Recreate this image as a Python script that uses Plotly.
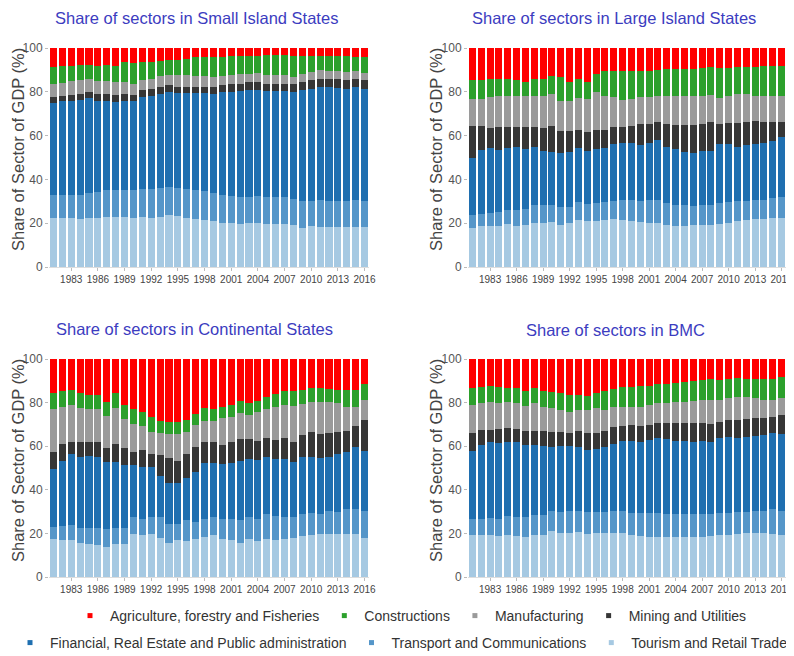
import plotly.graph_objects as go

years = list(range(1981, 2017))
tick_years = list(range(1983, 2017, 3))
y_ticks = [0, 20, 40, 60, 80, 100]

sectors = [
    "Tourism and Retail Trade",
    "Transport and Communications",
    "Financial, Real Estate and Public administration",
    "Mining and Utilities",
    "Manufacturing",
    "Constructions",
    "Agriculture, forestry and Fisheries",
]
colors = ["#a6c9e2", "#5596c9", "#1f6fb0", "#363636", "#9a9a9a", "#2ca02c", "#ff0000"]

panel_titles = [
    "Share of sectors in Small Island States",
    "Share of sectors in Large Island States",
    "Share of sectors in Continental States",
    "Share of sectors in BMC",
]
y_title = "Share of Sector of GDP (%)"

# ---- Small Island States ----
sis_tourism = [22.6, 22.6, 22.4, 21.7, 22.6, 22.6, 23.0, 23.0, 23.0, 22.6, 23.0, 22.6, 23.0, 23.7, 23.3, 22.6, 21.7, 21.4,
               21.0, 20.3, 20.2, 19.8, 20.0, 20.2, 19.8, 19.8, 19.8, 19.0, 17.9, 18.6, 18.4, 18.3, 18.3, 18.3, 18.3, 18.3]
sis_transport = [10.5, 10.5, 10.7, 11.4, 11.4, 11.7, 12.0, 12.0, 12.0, 12.4, 12.4, 13.0, 12.9, 12.9, 13.0, 13.0, 13.4, 13.3,
                 13.0, 12.5, 12.2, 12.0, 12.1, 12.2, 12.3, 12.0, 12.3, 12.0, 12.2, 11.5, 12.0, 11.8, 11.8, 11.8, 12.1, 11.8]
sis_financial = [42.0, 42.5, 42.9, 43.2, 43.1, 41.7, 41.0, 40.4, 41.0, 40.6, 42.2, 42.3, 43.2, 43.2, 43.2, 43.9, 44.4, 44.7,
                 45.2, 46.9, 47.6, 48.5, 48.5, 48.5, 48.1, 48.4, 48.1, 48.7, 50.8, 51.4, 51.7, 52.0, 51.7, 51.4, 51.6, 51.1]
sis_mining = [2.5, 2.3, 2.6, 2.6, 2.7, 2.9, 2.9, 3.1, 2.8, 3.0, 3.3, 3.3, 3.0, 3.4, 2.9, 2.9, 2.9, 3.0,
              3.2, 3.5, 3.7, 3.4, 3.7, 3.7, 3.5, 3.5, 3.5, 4.0, 3.4, 4.0, 3.7, 3.7, 4.0, 3.7, 3.8, 4.0]
sis_manufacturing = [5.8, 6.2, 6.3, 6.6, 6.0, 6.0, 6.0, 5.8, 5.5, 4.8, 4.6, 4.6, 4.9, 4.6, 5.5, 5.5, 4.9, 4.6,
                     4.3, 3.8, 4.2, 4.4, 3.9, 3.9, 4.2, 3.9, 3.9, 2.9, 3.7, 3.7, 4.0, 3.7, 3.7, 3.7, 3.5, 3.4]
sis_constructions = [7.7, 7.5, 7.0, 6.6, 6.4, 6.7, 7.5, 7.6, 9.1, 9.7, 7.9, 7.9, 7.2, 6.9, 6.8, 7.1, 8.4, 8.9,
                     9.2, 8.9, 8.3, 8.1, 8.0, 8.0, 8.9, 9.2, 9.3, 9.9, 8.5, 7.3, 6.7, 6.7, 6.7, 7.3, 6.6, 7.3]
sis_agriculture = [8.9, 8.4, 8.1, 7.9, 7.8, 8.4, 7.6, 8.1, 6.6, 6.9, 6.6, 6.3, 5.8, 5.3, 5.3, 5.0, 4.3, 4.1,
                   4.1, 4.1, 3.8, 3.8, 3.8, 3.5, 3.2, 3.2, 3.1, 3.5, 3.5, 3.5, 3.5, 3.8, 3.8, 3.8, 4.1, 4.1]

# ---- Large Island States ----
lis_tourism = [18.0, 18.6, 18.6, 18.6, 19.8, 18.6, 19.1, 20.2, 20.2, 20.6, 19.4, 20.2, 21.4, 20.8, 20.8, 21.4, 22.1, 21.4,
               20.9, 20.6, 20.2, 20.2, 19.1, 18.6, 18.9, 19.1, 19.1, 19.4, 19.8, 20.3, 20.8, 21.4, 21.8, 22.1, 22.4, 22.6]
lis_transport = [5.7, 5.8, 6.1, 6.6, 6.2, 7.4, 7.3, 8.0, 8.0, 7.6, 8.1, 7.3, 8.1, 7.9, 8.2, 8.2, 8.1, 9.1,
                 9.6, 9.5, 10.3, 10.6, 9.9, 9.6, 9.3, 8.7, 9.1, 8.8, 9.2, 9.5, 9.3, 8.7, 8.7, 8.7, 8.9, 9.2]
lis_financial = [25.9, 29.0, 29.8, 28.2, 28.2, 28.7, 27.3, 26.5, 24.9, 24.5, 24.7, 25.2, 24.7, 24.4, 24.7, 24.9, 26.0, 26.3,
                 26.0, 25.6, 26.0, 27.2, 26.0, 25.5, 24.5, 24.1, 24.9, 24.9, 27.2, 26.2, 24.9, 25.6, 25.7, 25.7, 26.3, 27.4]
lis_mining = [14.8, 11.0, 8.9, 10.7, 9.9, 9.4, 10.1, 9.4, 10.6, 11.7, 9.9, 9.4, 8.5, 8.7, 9.0, 8.2, 7.9, 7.0,
              8.1, 9.5, 8.8, 8.1, 10.5, 11.2, 12.0, 13.0, 12.1, 13.0, 9.0, 9.6, 10.6, 10.4, 10.5, 9.9, 8.8, 7.2]
lis_manufacturing = [12.4, 12.4, 14.0, 13.8, 13.8, 14.2, 14.5, 14.2, 14.6, 14.5, 13.9, 13.5, 14.4, 15.0, 17.0, 15.2, 13.3, 12.5,
                     12.2, 12.4, 12.1, 11.8, 12.4, 13.4, 13.2, 13.0, 13.1, 12.5, 11.9, 12.6, 13.2, 12.8, 11.5, 11.9, 11.5, 11.5]
lis_constructions = [8.4, 8.7, 8.6, 8.1, 8.1, 6.9, 6.4, 7.7, 7.7, 8.1, 10.6, 9.1, 8.7, 7.9, 8.4, 11.7, 11.9, 13.3,
                     12.5, 12.0, 12.2, 12.2, 12.5, 12.1, 12.5, 12.6, 12.5, 12.7, 13.7, 12.6, 12.5, 12.4, 12.9, 13.3, 14.0, 13.7]
lis_agriculture = [14.8, 14.5, 14.0, 14.0, 14.0, 14.8, 15.3, 14.0, 14.0, 13.0, 13.4, 15.3, 14.2, 15.3, 11.9, 10.4, 10.7, 10.4,
                   10.7, 10.4, 10.4, 9.9, 9.6, 9.6, 9.6, 9.5, 9.2, 8.7, 9.2, 9.2, 8.7, 8.7, 8.9, 8.4, 8.1, 8.4]

# ---- Continental States ----
cs_tourism = [17.6, 17.2, 16.9, 15.6, 15.0, 14.6, 13.8, 15.0, 15.3, 19.5, 19.2, 19.6, 17.9, 15.8, 16.9, 16.4, 17.6, 18.4,
              19.2, 17.6, 16.9, 15.8, 17.3, 16.6, 17.6, 17.2, 17.6, 17.9, 18.7, 19.2, 19.5, 19.9, 19.6, 19.9, 19.9, 17.9]
cs_transport = [5.4, 6.1, 6.9, 7.1, 7.7, 8.1, 8.0, 7.7, 7.4, 7.8, 7.6, 8.0, 9.7, 8.7, 7.6, 9.7, 7.7, 8.0,
                8.1, 8.8, 9.5, 10.3, 10.3, 10.2, 11.1, 10.9, 10.0, 9.4, 10.1, 10.2, 9.3, 10.3, 10.3, 11.2, 11.5, 12.5]
cs_financial = [26.4, 30.1, 32.5, 32.5, 33.0, 32.2, 31.1, 30.2, 28.7, 24.1, 23.5, 22.7, 18.9, 18.4, 18.4, 19.1, 23.0, 26.1,
                25.2, 25.3, 26.1, 27.3, 26.4, 26.9, 26.2, 26.0, 26.5, 25.3, 26.4, 25.8, 25.6, 25.0, 26.4, 26.3, 28.1, 27.6]
cs_mining = [7.8, 7.5, 5.7, 6.5, 6.0, 6.8, 6.5, 8.0, 7.6, 6.1, 8.0, 6.0, 9.5, 11.9, 10.3, 11.1, 11.2, 9.3,
             9.3, 8.9, 9.2, 9.8, 9.2, 8.7, 8.8, 8.8, 9.6, 9.5, 10.0, 11.1, 11.1, 10.8, 10.4, 9.6, 9.8, 14.1]
cs_manufacturing = [19.8, 17.3, 16.7, 15.6, 15.3, 15.3, 14.5, 16.6, 13.4, 12.6, 11.0, 10.0, 10.0, 10.8, 12.3, 10.1, 10.3, 9.8,
                    9.8, 12.3, 11.9, 12.0, 11.2, 13.1, 13.4, 15.0, 15.0, 16.4, 14.1, 13.9, 15.0, 14.2, 13.1, 11.2, 8.9, 9.2]
cs_constructions = [7.4, 7.2, 6.9, 7.1, 6.6, 6.3, 6.2, 6.9, 6.7, 6.9, 6.6, 7.0, 5.6, 5.7, 5.4, 5.7, 4.9, 5.9,
                    5.5, 5.3, 5.4, 5.6, 5.4, 5.3, 5.4, 6.0, 6.4, 6.6, 6.3, 6.5, 6.2, 6.1, 6.1, 7.4, 7.4, 7.2]
cs_agriculture = [15.6, 14.6, 14.4, 15.6, 16.4, 16.7, 19.9, 15.6, 20.9, 23.0, 24.1, 26.7, 28.4, 28.7, 29.1, 27.9, 25.3, 22.5,
                  22.9, 21.8, 21.0, 19.2, 20.2, 19.2, 17.5, 16.1, 14.9, 14.9, 14.4, 13.3, 13.3, 13.7, 14.1, 14.4, 14.4, 11.5]

# ---- BMC ----
bmc_tourism = [19.1, 19.1, 19.1, 18.6, 19.1, 18.6, 18.3, 19.4, 19.4, 20.9, 20.3, 20.3, 20.6, 19.8, 20.2, 20.2, 20.2, 20.2,
               19.1, 18.8, 18.3, 18.3, 18.3, 18.3, 18.3, 18.3, 18.3, 18.6, 19.4, 19.4, 19.8, 20.2, 20.2, 20.2, 19.8, 19.4]
bmc_transport = [7.3, 7.3, 7.9, 7.8, 8.7, 8.9, 9.2, 9.1, 9.1, 9.2, 9.5, 9.8, 9.9, 9.9, 9.6, 9.6, 9.9, 10.3,
                 10.4, 10.7, 11.2, 11.2, 10.7, 10.7, 10.4, 10.4, 10.7, 10.4, 10.1, 10.1, 10.0, 9.6, 10.0, 10.3, 11.2, 10.8]
bmc_financial = [31.3, 34.2, 35.1, 35.0, 34.3, 34.3, 33.1, 32.1, 31.5, 29.7, 30.2, 29.9, 29.0, 28.7, 28.7, 29.7, 31.0, 31.8,
                 32.8, 32.6, 33.4, 34.2, 34.1, 33.6, 33.6, 33.1, 33.3, 32.8, 34.3, 34.6, 34.0, 34.3, 34.7, 34.7, 35.0, 35.4]
bmc_mining = [8.4, 7.0, 5.5, 6.5, 6.3, 6.1, 6.3, 6.6, 6.9, 6.6, 6.4, 6.1, 7.4, 7.6, 7.6, 7.4, 7.6, 6.9,
              7.2, 7.1, 6.9, 6.8, 7.4, 7.9, 8.2, 8.7, 8.5, 8.4, 7.5, 8.0, 8.3, 8.2, 8.1, 7.6, 7.6, 8.8]
bmc_manufacturing = [12.8, 12.2, 12.6, 11.9, 11.8, 11.7, 11.7, 12.4, 11.0, 11.0, 10.4, 9.8, 9.7, 10.7, 11.5, 9.9, 9.2, 8.7,
                     8.7, 9.0, 9.3, 9.3, 9.3, 10.0, 10.0, 10.1, 10.4, 11.0, 9.9, 10.0, 10.6, 10.4, 9.0, 8.6, 7.8, 7.6]
bmc_constructions = [7.7, 7.5, 7.3, 7.2, 6.5, 7.0, 6.9, 7.1, 7.6, 7.3, 7.6, 7.6, 6.9, 6.4, 6.7, 8.4, 8.4, 9.1,
                     8.8, 9.3, 8.7, 8.7, 8.7, 8.4, 9.1, 9.5, 9.3, 9.6, 9.3, 8.7, 8.4, 8.1, 8.8, 9.4, 9.4, 9.6]
bmc_agriculture = [13.4, 12.7, 12.5, 13.0, 13.3, 13.4, 14.5, 13.3, 14.5, 15.3, 15.6, 16.5, 16.5, 16.8, 15.7, 14.8, 13.7, 13.0,
                   13.0, 12.5, 12.2, 11.5, 11.5, 11.1, 10.4, 9.9, 9.5, 9.2, 9.5, 9.2, 8.9, 9.2, 9.2, 9.2, 9.2, 8.4]

panels = [
    [sis_tourism, sis_transport, sis_financial, sis_mining, sis_manufacturing, sis_constructions, sis_agriculture],
    [lis_tourism, lis_transport, lis_financial, lis_mining, lis_manufacturing, lis_constructions, lis_agriculture],
    [cs_tourism, cs_transport, cs_financial, cs_mining, cs_manufacturing, cs_constructions, cs_agriculture],
    [bmc_tourism, bmc_transport, bmc_financial, bmc_mining, bmc_manufacturing, bmc_constructions, bmc_agriculture],
]

# The page body has an 8px margin, so the figure is sized to the visible area
# and every position below is given in page pixels, converted to figure pixels.
OFF = 8
W, H = 794 - OFF, 656 - OFF
# plot-area page-pixel boxes (left, right, top, bottom)
boxes = [(49, 369, 48, 267), (468, 786, 48, 267), (49, 369, 359, 577), (468, 786, 359, 577)]
# title centres and y-axis title centres, page pixels
title_pos = [(196, 18), (614, 18), (194, 329), (615, 330)]
ytitle_pos = [(18, 150), (436, 150), (18, 461), (436, 461)]


def px(x):
    return (x - OFF) / W


def py(y):
    return 1 - (y - OFF) / H


fig = go.Figure()
FONT = "Liberation Sans, Arial, sans-serif"
layout = dict(
    width=W, height=H, margin=dict(l=0, r=0, t=0, b=0, autoexpand=False),
    paper_bgcolor="white", plot_bgcolor="white",
    barmode="stack", bargap=0.2,
    font=dict(family=FONT, color="#444"),
    annotations=[],
)

for p, (vals, box) in enumerate(zip(panels, boxes)):
    sfx = "" if p == 0 else str(p + 1)
    xa, ya = "x" + sfx, "y" + sfx
    for s, (name, col, v) in enumerate(zip(sectors, colors, vals)):
        fig.add_trace(go.Bar(x=years, y=v, name=name, marker=dict(color=col, line=dict(width=0)),
                             xaxis=xa, yaxis=ya, showlegend=False))
    l, r, t, b = box
    layout["xaxis" + sfx] = dict(
        domain=[px(l), px(r)], anchor=ya, range=[1980.5, 2016.5], automargin=False,
        tickvals=tick_years, ticktext=[str(y) for y in tick_years],
        ticks="outside", ticklen=3, tickcolor="#bbb", showgrid=False, zeroline=False,
        showline=True, linecolor="#ddd", linewidth=1,
        tickfont=dict(size=10, color="#444"), fixedrange=True,
    )
    layout["yaxis" + sfx] = dict(
        domain=[py(b), py(t)], anchor=xa, range=[0, 100], automargin=False,
        tickvals=y_ticks, ticks="outside", ticklen=3, tickcolor="#bbb",
        showgrid=False, zeroline=False, showline=False,
        tickfont=dict(size=12, color="#555"),
    )
    tx, ty = title_pos[p]
    layout["annotations"].append(dict(
        text=panel_titles[p], xref="paper", yref="paper",
        x=px(tx), y=py(ty), xanchor="center", yanchor="middle",
        showarrow=False, font=dict(size=16.5, color="#3c3cc0", family=FONT),
    ))
    yx, yy = ytitle_pos[p]
    layout["annotations"].append(dict(
        text=y_title, xref="paper", yref="paper", textangle=-90,
        x=px(yx), y=py(yy), xanchor="center", yanchor="middle",
        showarrow=False, font=dict(size=16.5, color="#444", family=FONT),
    ))

# legend entries (two rows, as in the reference)
row1 = [6, 5, 4, 3]
row2 = [2, 1, 0]
for idx in row1:
    fig.add_trace(go.Scatter(x=[None], y=[None], mode="markers", name=sectors[idx],
                             marker=dict(symbol="square", size=5, color=colors[idx]), legend="legend"))
for idx in row2:
    fig.add_trace(go.Scatter(x=[None], y=[None], mode="markers", name=sectors[idx],
                             marker=dict(symbol="square", size=5, color=colors[idx]), legend="legend2"))

legend_common = dict(orientation="h", font=dict(size=14, color="#333", family=FONT),
                     bgcolor="rgba(0,0,0,0)", itemwidth=30, yanchor="middle", xanchor="left",
                     traceorder="normal")
layout["legend"] = dict(x=px(70), y=py(616), **legend_common)
layout["legend2"] = dict(x=px(10), y=py(643), **legend_common)

fig.update_layout(**layout)
fig.write_html("out.html")
